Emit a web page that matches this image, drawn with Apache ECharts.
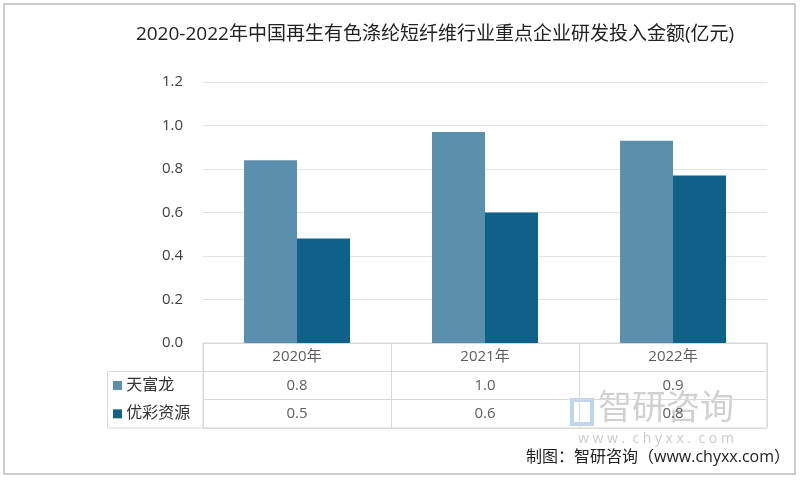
<!DOCTYPE html>
<html>
<head>
<meta charset="utf-8">
<script src="https://cdn.jsdelivr.net/npm/echarts@6/dist/echarts.min.js"></script>
<style>
    html, body { margin: 0; padding: 0; background: #fff; }
    #main { width: 800px; height: 480px; }
</style>
</head>
<body>
<div id="main"></div>
<script>
var years = ['2020年', '2021年', '2022年'];
var seriesNames = ['天富龙', '优彩资源'];
var tianfulong = [0.84, 0.97, 0.93];
var youcai = [0.48, 0.60, 0.77];
var colors = ['#5b8fae', '#0f6189'];
var tableRows = ['', '天富龙', '优彩资源'];

~function () {
    var myChart = echarts.init(document.getElementById('main'));
    var font = "'Open Sans', 'Noto Sans CJK SC', sans-serif";

    // cells of the data table under the bars
    var cells = [];
    years.forEach(function (y, i) {
        cells.push({value: [i, 0], text: y});
        cells.push({value: [i, 1], text: tianfulong[i].toFixed(1)});
        cells.push({value: [i, 2], text: youcai[i].toFixed(1)});
    });

    var option = {
        animation: false,
        title: {
            text: '2020-2022年中国再生有色涤纶短纤维行业重点企业研发投入金额(亿元)',
            left: 430,
            textAlign: 'center',
            top: 20,
            textStyle: {fontSize: 19, fontWeight: 'normal', color: '#222', fontFamily: font}
        },
        grid: [
            {left: 203, right: 33, top: 82, height: 261},
            {left: 203, right: 33, top: 343, height: 85, show: true, borderColor: '#d9d9d9', borderWidth: 1}
        ],
        xAxis: [
            {
                type: 'category',
                gridIndex: 0,
                data: years,
                axisLine: {lineStyle: {color: '#d9d9d9'}},
                axisTick: {show: false},
                axisLabel: {show: false}
            },
            {
                type: 'category',
                gridIndex: 1,
                data: years,
                axisLine: {show: false},
                axisTick: {show: false},
                axisLabel: {show: false},
                splitLine: {show: true, lineStyle: {color: '#d9d9d9'}}
            }
        ],
        yAxis: [
            {
                type: 'value',
                gridIndex: 0,
                min: 0,
                max: 1.2,
                interval: 0.2,
                axisLine: {show: false},
                axisTick: {show: false},
                axisLabel: {
                    margin: 20,
                    fontSize: 15,
                    color: '#404040',
                    fontFamily: font,
                    formatter: function (v) { return v.toFixed(1); }
                },
                splitLine: {lineStyle: {color: '#e3e3e3'}}
            },
            {
                type: 'category',
                gridIndex: 1,
                inverse: true,
                data: tableRows,
                axisLine: {show: false},
                axisTick: {show: false},
                splitLine: {show: true, lineStyle: {color: '#d9d9d9'}},
                axisLabel: {
                    align: 'left',
                    margin: 90,
                    fontSize: 16,
                    color: '#333',
                    fontFamily: font,
                    formatter: function (v, i) {
                        if (!v) return '';
                        return '{s' + i + '|} ' + v;
                    },
                    rich: {
                        s1: {width: 9, height: 9, backgroundColor: colors[0]},
                        s2: {width: 9, height: 9, backgroundColor: colors[1]}
                    }
                }
            }
        ],
        series: [
            {
                name: seriesNames[0],
                type: 'bar',
                data: tianfulong,
                barWidth: 53,
                barGap: '0%',
                itemStyle: {color: colors[0]}
            },
            {
                name: seriesNames[1],
                type: 'bar',
                data: youcai,
                barWidth: 53,
                barGap: '0%',
                itemStyle: {color: colors[1]}
            },
            {
                type: 'scatter',
                xAxisIndex: 1,
                yAxisIndex: 1,
                symbolSize: 0,
                data: cells,
                label: {
                    show: true,
                    position: 'inside',
                    fontSize: 15,
                    color: '#333',
                    fontFamily: font,
                    formatter: function (p) { return p.data.text; }
                }
            }
        ],
        graphic: [
            {
                type: 'rect',
                shape: {x: 4, y: 4, width: 791, height: 470},
                style: {fill: 'none', stroke: '#bdbdbd', lineWidth: 1.5},
                z: -1
            },
            {
                type: 'rect',
                shape: {x: 107.5, y: 371.5, width: 96, height: 56.5},
                style: {fill: 'none', stroke: '#d9d9d9', lineWidth: 1}
            },
            {
                type: 'text',
                left: 598,
                top: 392,
                style: {text: '智研咨询', fontSize: 34, fill: 'rgba(150,150,150,0.45)', fontFamily: font}
            },
            {
                type: 'rect',
                shape: {x: 572, y: 400, width: 20, height: 24},
                style: {fill: 'none', stroke: 'rgba(110,160,210,0.45)', lineWidth: 4}
            },
            {
                type: 'text',
                left: 578,
                top: 432,
                style: {text: 'w w w .  c h y x x .  c o m', fontSize: 14, fill: 'rgba(150,150,150,0.5)', fontFamily: font}
            },
            {
                type: 'text',
                right: 10,
                top: 449,
                style: {text: '制图：智研咨询（www.chyxx.com）', fontSize: 16, fill: '#222', fontFamily: font}
            }
        ]
    };
    myChart.setOption(option);
}();
</script>
</body>
</html>
